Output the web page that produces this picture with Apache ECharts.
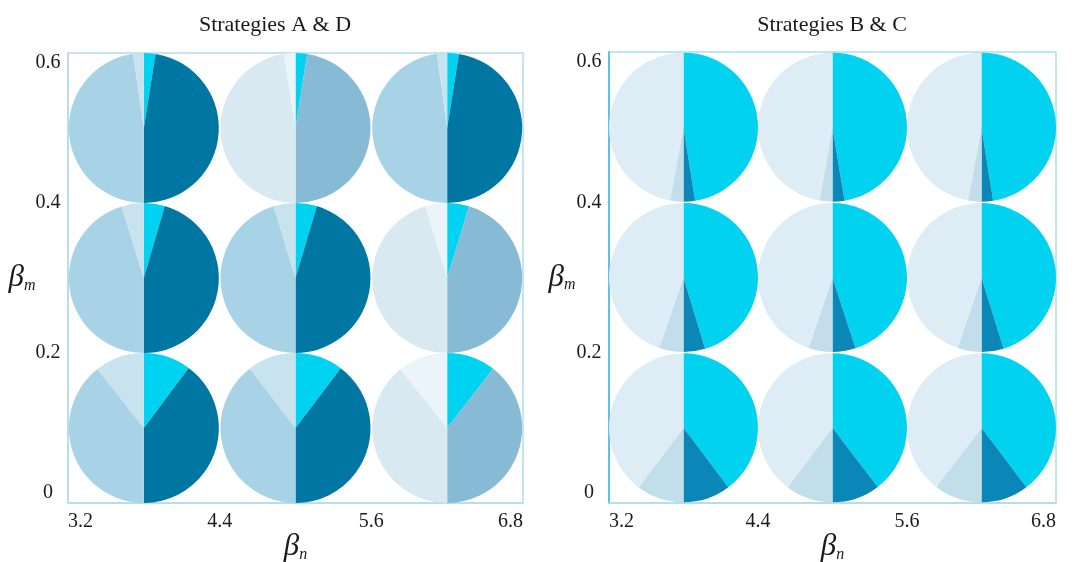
<!DOCTYPE html>
<html>
<head>
<meta charset="utf-8">
<script src="https://cdn.jsdelivr.net/npm/echarts@6/dist/echarts.min.js"></script>
<style>
  html, body { margin: 0; padding: 0; background: #ffffff; }
  #chart { width: 1074px; height: 562px; }
</style>
</head>
<body>
<div id="chart"></div>
<script>
// Pie grid positions (βn columns, βm rows) and axis ticks
const betaN = [3.8, 5.0, 6.2];
const betaM = [0.1, 0.3, 0.5];
const xTickStart = 3.2;
const xTickEnd = 6.8;
const xTickStep = 1.2;
const yTickStart = 0;
const yTickEnd = 0.6;
const yTickStep = 0.2;

const panelTitles = ['Strategies A & D', 'Strategies B & C'];

// Strategies A & D — slice shares (%) per pie; rows follow betaM, columns follow betaN
const adCyan  = [[10.2, 10.3, 10.5], [4.5, 4.6, 4.7], [2.5, 2.5, 2.5]];
const adDark  = [[39.8, 39.7, 39.5], [45.5, 45.4, 45.3], [47.5, 47.5, 47.5]];
const adLight = [[39.4, 39.6, 39.3], [45.2, 45.3, 45.3], [47.7, 47.5, 47.8]];
const adPale  = [[10.6, 10.4, 10.7], [4.8, 4.7, 4.7], [2.3, 2.5, 2.2]];

// Strategies B & C — slice shares (%) per pie
const bcCyan  = [[39.7, 39.6, 39.7], [45.3, 45.0, 45.2], [47.5, 47.4, 47.5]];
const bcDark  = [[10.3, 10.4, 10.3], [4.7, 5.0, 4.8], [2.5, 2.6, 2.5]];
const bcMid   = [[10.3, 10.3, 10.4], [5.3, 5.2, 5.2], [2.9, 2.8, 2.9]];
const bcPale  = [[39.7, 39.7, 39.6], [44.7, 44.8, 44.8], [47.1, 47.2, 47.1]];

// Which A & D pies use the faded palette
const adFaded = [[false, false, true], [false, false, true], [false, true, false]];

const PAL_AD_STRONG = ['#00d3f1', '#0077a2', '#a8d3e7', '#c8e2ee'];
const PAL_AD_FADED  = ['#00d3f1', '#87bad5', '#d9e9f2', '#eaf4f9'];
const PAL_BC        = ['#00d2f0', '#0a87b6', '#c2deea', '#deedf5'];

const SERIF = '"Liberation Serif", "Times New Roman", serif';
const INK = '#1a1a1a';

const nameRich = {
  b: { fontFamily: SERIF, fontStyle: 'italic', fontSize: 31, color: INK },
  s: { fontFamily: SERIF, fontStyle: 'italic', fontSize: 16, color: INK, verticalAlign: 'bottom' }
};

function axisPair(gridIndex, yLineColor, yNameGap) {
  const xAxis = {
    type: 'value', gridIndex: gridIndex,
    min: xTickStart, max: xTickEnd, interval: xTickStep,
    axisLine: { show: true, lineStyle: { color: '#b3dcec', width: 1.5 } },
    axisTick: { show: false },
    splitLine: { show: false },
    axisLabel: {
      color: INK, fontFamily: SERIF, fontSize: 20, margin: 9,
      alignMinLabel: 'left', alignMaxLabel: 'right'
    },
    name: '{b|β}{s|n}',
    nameLocation: 'middle', nameGap: 44, nameMoveOverlap: false,
    nameTextStyle: { align: 'center', verticalAlign: 'middle', rich: nameRich }
  };
  const yAxis = {
    type: 'value', gridIndex: gridIndex,
    min: yTickStart, max: yTickEnd, interval: yTickStep,
    axisLine: { show: true, lineStyle: { color: yLineColor, width: 1.5 } },
    axisTick: { show: false },
    splitLine: { show: false },
    axisLabel: {
      color: INK, fontFamily: SERIF, fontSize: 20, margin: 20, align: 'center',
      verticalAlignMinLabel: 'bottom', verticalAlignMaxLabel: 'top'
    },
    name: '{b|β}{s|m}',
    nameLocation: 'middle', nameGap: yNameGap, nameRotate: 0, nameMoveOverlap: false,
    nameTextStyle: { align: 'center', verticalAlign: 'middle', rich: nameRich }
  };
  return [xAxis, yAxis];
}

const [x0, y0] = axisPair(0, '#b3dcec', 46);
const [x1, y1] = axisPair(1, '#3ab6ee', 47);

const chart = echarts.init(document.getElementById('chart'), null, { renderer: 'canvas' });

chart.setOption({
  animation: false,
  backgroundColor: '#ffffff',
  grid: [
    { left: 68, top: 53, width: 455, height: 450, containLabel: false, outerBoundsMode: 'none',
      show: true, borderColor: '#b3dcec', borderWidth: 1.5 },
    { left: 609, top: 52, width: 447, height: 451, containLabel: false, outerBoundsMode: 'none',
      show: true, borderColor: '#a9def0', borderWidth: 1.5 }
  ],
  xAxis: [x0, x1],
  yAxis: [y0, y1],
  graphic: [
    { type: 'text', x: 275, y: 25, style: { text: panelTitles[0], align: 'center', verticalAlign: 'middle', fontFamily: SERIF, fontSize: 22, fill: INK } },
    { type: 'text', x: 832, y: 25, style: { text: panelTitles[1], align: 'center', verticalAlign: 'middle', fontFamily: SERIF, fontSize: 22, fill: INK } }
  ]
});

// Build one pie per (βm, βn) cell, centred through the grid's own scales
function buildPies(gridIndex, slices, paletteFor) {
  const series = [];
  const p0 = chart.convertToPixel({ gridIndex: gridIndex }, [betaN[0], betaM[0]]);
  const p1 = chart.convertToPixel({ gridIndex: gridIndex }, [betaN[1], betaM[1]]);
  const r = Math.min(Math.abs(p1[0] - p0[0]), Math.abs(p1[1] - p0[1])) / 2;
  betaM.forEach(function (m, i) {
    betaN.forEach(function (n, j) {
      const c = chart.convertToPixel({ gridIndex: gridIndex }, [n, m]);
      const pal = paletteFor(i, j);
      series.push({
        type: 'pie',
        center: c,
        radius: r,
        startAngle: 90,
        clockwise: true,
        silent: true,
        animation: false,
        label: { show: false },
        labelLine: { show: false },
        emphasis: { disabled: true },
        itemStyle: { borderWidth: 0 },
        data: slices.map(function (arr, k) {
          return { value: arr[i][j], itemStyle: { color: pal[k] } };
        })
      });
    });
  });
  return series;
}

const series = []
  .concat(buildPies(0, [adCyan, adDark, adLight, adPale], function (i, j) {
    return adFaded[i][j] ? PAL_AD_FADED : PAL_AD_STRONG;
  }))
  .concat(buildPies(1, [bcCyan, bcDark, bcMid, bcPale], function () {
    return PAL_BC;
  }));

chart.setOption({ series: series });
</script>
</body>
</html>
